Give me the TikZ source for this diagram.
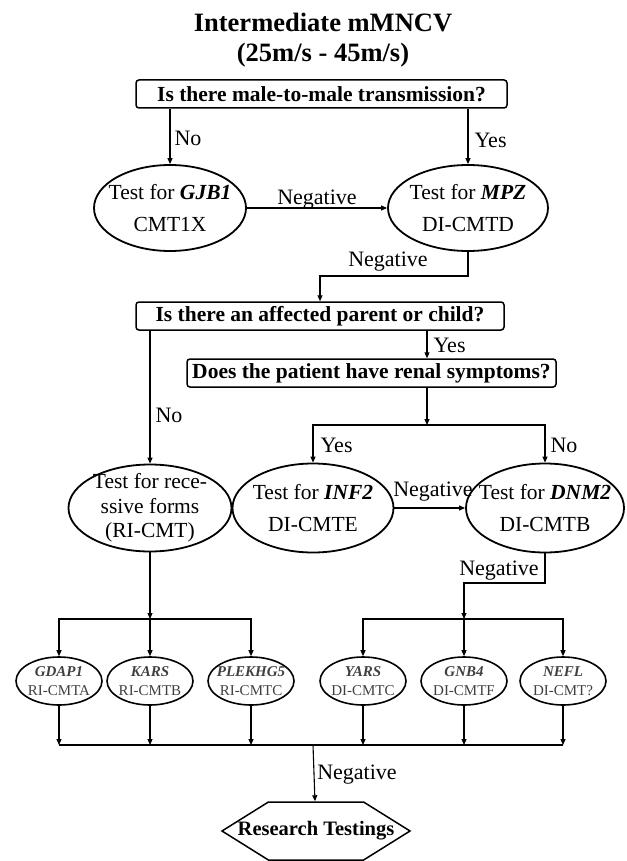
\documentclass[tikz,border=0pt]{standalone}
\usepackage{fontspec}
\setmainfont{Liberation Serif}
\usetikzlibrary{shapes.geometric,shapes.symbols,arrows.meta}

\tikzset{
  testell/.style={draw, ellipse, line width=1.8pt, inner xsep=-20pt, inner ysep=-10pt, align=center, font=\fontsize{21.5}{32}\selectfont},
  geneell/.style={draw, ellipse, line width=1.6pt, minimum width=86pt, minimum height=48pt, inner xsep=-15pt, inner ysep=-8pt, align=center, text=black!75, font=\fontsize{15}{19}\selectfont},
  qbox/.style={draw, rounded corners=3pt, line width=1.5pt, minimum height=28pt, inner sep=0pt, font=\bfseries\fontsize{21.5}{24}\selectfont},
  lbl/.style={inner sep=0pt, font=\fontsize{22}{24}\selectfont},
}

\begin{document}
\begin{tikzpicture}[x=1pt, y=-1pt, line width=1.1pt, >={Triangle[length=6pt,width=5pt]}]
            \useasboundingbox (0,0) rectangle (626,861);
            \node[align=center, font=\bfseries\fontsize{26.5}{30}\selectfont] at (323,40) (title) {Intermediate mMNCV\\(25m/s - 45m/s)};
            \node[qbox, minimum width=371pt] at (321.5,94) (q1) {Is there male-to-male transmission?};
            \node[testell, minimum width=152pt, minimum height=86pt] at (170,208) (gjb) {Test for \textbf{\textit{GJB1}}\\CMT1X};
            \node[testell, minimum width=160pt, minimum height=86pt] at (468,208) (mpz) {Test for \textbf{\textit{MPZ}}\\DI-CMTD};
            \node[qbox, minimum width=368pt] at (320,316) (q2) {Is there an affected parent or child?};
            \node[qbox, minimum width=369pt] at (371.5,373) (q3) {Does the patient have renal symptoms?};
            \node[testell, minimum width=163pt, minimum height=87pt, font=\fontsize{21.5}{24.5}\selectfont] at (150,508) (rec) {Test for rece-\\ssive forms\\(RI-CMT)};
            \node[testell, minimum width=161pt, minimum height=89pt] at (313,508) (inf) {Test for \textbf{\textit{INF2}}\\DI-CMTE};
            \node[testell, minimum width=158pt, minimum height=89pt] at (545,508) (dnm) {Test for \textbf{\textit{DNM2}}\\DI-CMTB};
            \node[geneell] at (59,681) (gdap) {\textbf{\textit{GDAP1}}\\RI-CMTA};
            \node[geneell] at (150,681) (kars) {\textbf{\textit{KARS}}\\RI-CMTB};
            \node[geneell] at (251,681) (plek) {\textbf{\textit{PLEKHG5}}\\RI-CMTC};
            \node[geneell] at (363,681) (yars) {\textbf{\textit{YARS}}\\DI-CMTC};
            \node[geneell] at (464,681) (gnb) {\textbf{\textit{GNB4}}\\DI-CMTF};
            \node[geneell] at (563,681) (nefl) {\textbf{\textit{NEFL}}\\DI-CMT?};
            \node[draw, signal, signal to=west and east, signal pointer angle=64, minimum width=188pt, minimum height=58pt, inner xsep=-32pt, inner ysep=0pt, line width=1.5pt, font=\bfseries\fontsize{20.5}{24}\selectfont] at (316,831) (res) {Research Testings};
            \node[lbl, anchor=west] at (174,138) (no1) {No};
            \node[lbl, anchor=west] at (474,140) (yes1) {Yes};
            \node[lbl] at (317,200) (neg1) {Negative};
            \node[lbl] at (388,262) (neg2) {Negative};
            \node[lbl, anchor=west] at (433,345) (yes2) {Yes};
            \node[lbl, anchor=west] at (155,415) (no2) {No};
            \node[lbl, anchor=west] at (320,445) (yes3) {Yes};
            \node[lbl, anchor=west] at (550,445) (no3) {No};
            \node[lbl] at (433,492) (neg3) {Negative};
            \node[lbl] at (499,571) (neg4) {Negative};
            \node[lbl] at (357,775) (neg5) {Negative};
            \coordinate (j1) at (320,276);
            \coordinate (j2) at (427,425);
            \coordinate (j3) at (150,619);
            \coordinate (k4) at (464,583);
            \coordinate (j4) at (464,619);
            \coordinate (j5) at (313,745);
            \draw[->] (q1.south -| gjb) to (gjb);
            \draw[->] (q1.south -| mpz) to (mpz);
            \draw[->] (gjb) to (mpz);
            \draw[->] (mpz.south) |- (j1) to (j1 |- q2.north);
            \draw[->] (q2.south -| rec) to (rec);
            \draw[->] (q2.south -| j2) to (q3.north -| j2);
            \draw[->] (q3.south -| j2) to (j2);
            \draw[->] (j2) -| (inf);
            \draw[->] (j2) -| (dnm);
            \draw[->] (inf) to (dnm);
            \draw[->] (rec) to (j3);
            \foreach \g in {gdap,kars,plek} \draw[->] (j3) -| (\g);
            \draw[->] (dnm.south) |- (k4) to (j4);
            \foreach \g in {yars,gnb,nefl} \draw[->] (j4) -| (\g);
            \foreach \g in {gdap,kars,plek,yars,gnb,nefl} \draw[->] (\g) to (\g |- j5);
            \draw (gdap |- j5) to (nefl |- j5);
            \draw[->] (j5) to (res);
        \end{tikzpicture}
\end{document}
